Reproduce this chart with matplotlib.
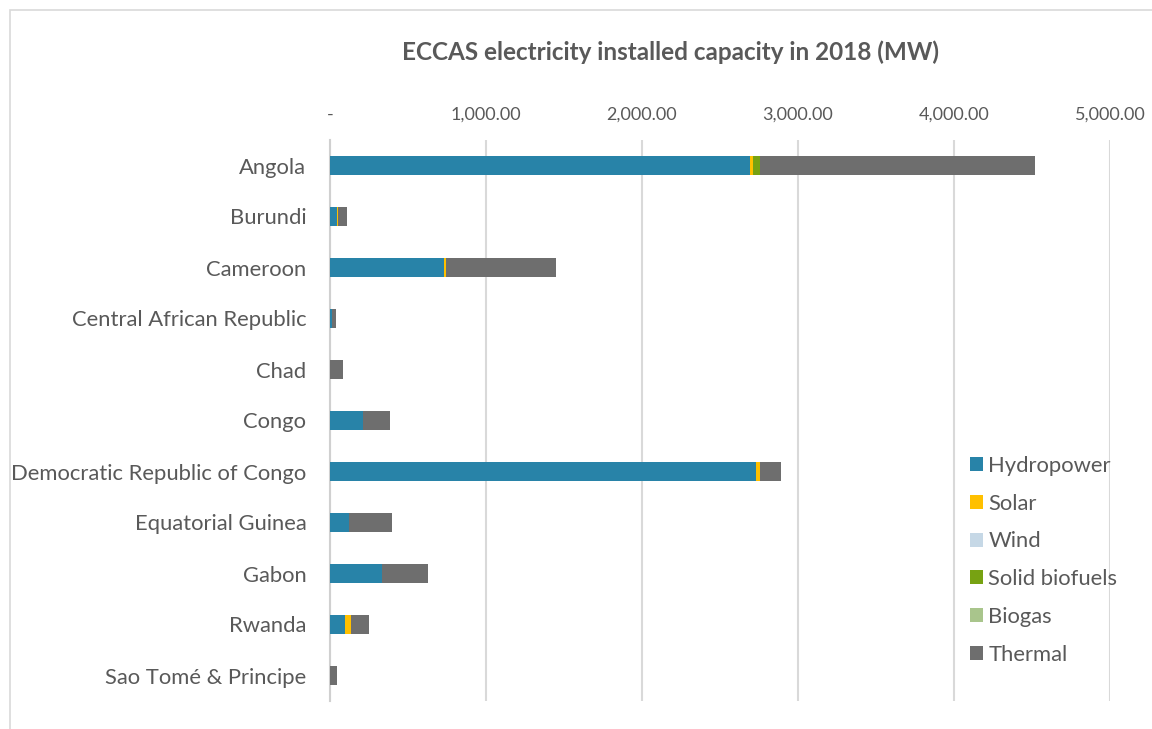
import matplotlib.pyplot as plt
from matplotlib.patches import Rectangle
import numpy as np

# Datos (MW)
paises = ['Angola', 'Burundi', 'Cameroon', 'Central African Republic', 'Chad', 'Congo',
          'Democratic Republic of Congo', 'Equatorial Guinea', 'Gabon', 'Rwanda',
          'Sao Tomé & Principe']
hidro = [2692, 47, 731, 10, 0, 212, 2731, 122, 333, 96, 2]
solar = [19, 6, 13, 0, 0, 0, 25, 0, 0, 38, 0]
eolica = [0, 0, 0, 0, 0, 0, 0, 0, 0, 0, 0]
biocomb = [45, 0, 0, 2, 0, 0, 0, 0, 0, 0, 0]
biogas = [0, 0, 0, 0, 0, 0, 0, 0, 0, 0, 0]
termica = [1763, 55, 705, 25, 83, 173, 135, 276, 295, 115, 43]

series = [('Hydropower', hidro, '#2883a8'),
          ('Solar', solar, '#ffc000'),
          ('Wind', eolica, '#c6d8e6'),
          ('Solid biofuels', biocomb, '#77a212'),
          ('Biogas', biogas, '#a9c58c'),
          ('Thermal', termica, '#6e6e6e')]

texto = '#595959'
plt.rcParams['font.family'] = ['Lato', 'DejaVu Sans']

fig = plt.figure(figsize=(11.52, 7.29), dpi=100)
# Borde del área del gráfico
fig.patches.append(Rectangle((10 / 1152, -0.1), 1.2, 1 - 10 / 729 + 0.1,
                             transform=fig.transFigure, fill=False,
                             edgecolor='#d9d9d9', linewidth=1.2))

ax = fig.add_axes([330 / 1152, 1 - 701 / 729, 780 / 1152, 561 / 729])

y = np.arange(len(paises))
izquierda = np.zeros(len(paises))
for nombre, valores, color in series:
    ax.barh(y, valores, left=izquierda, height=0.37, color=color, label=nombre, zorder=3)
    izquierda += np.array(valores)

ax.set_xlim(0, 5000)
ax.set_ylim(len(paises) - 0.5, -0.5)
ax.set_yticks(y)
ax.set_yticklabels(paises, fontsize=15.8, color=texto)
ax.xaxis.tick_top()
ax.set_xticks(np.arange(0, 5001, 1000))
ax.set_xticklabels(['-' if v == 0 else '{:,.2f}'.format(v) for v in range(0, 5001, 1000)],
                   fontsize=13, color=texto)
ax.tick_params(axis='y', length=0, pad=17)
ax.tick_params(axis='x', length=0, pad=12.5)
ax.grid(axis='x', color='#d9d9d9', linewidth=1.5, zorder=0)
for lado in ['top', 'right', 'bottom']:
    ax.spines[lado].set_visible(False)
ax.spines['left'].set_color('#d0d0d0')
ax.spines['left'].set_linewidth(1.5)

fig.text(0.582, 1 - 52 / 729, 'ECCAS electricity installed capacity in 2018 (MW)',
         ha='center', va='center', fontsize=17.5, fontweight='bold', color=texto)

fig.legend(loc='upper left', bbox_to_anchor=(950 / 1152, 1 - 436 / 729), frameon=False,
           fontsize=15.8, labelcolor=texto, handlelength=0.6, handleheight=0.6,
           handletextpad=0.25, labelspacing=0.81)

fig.savefig('out.png', dpi=100)
